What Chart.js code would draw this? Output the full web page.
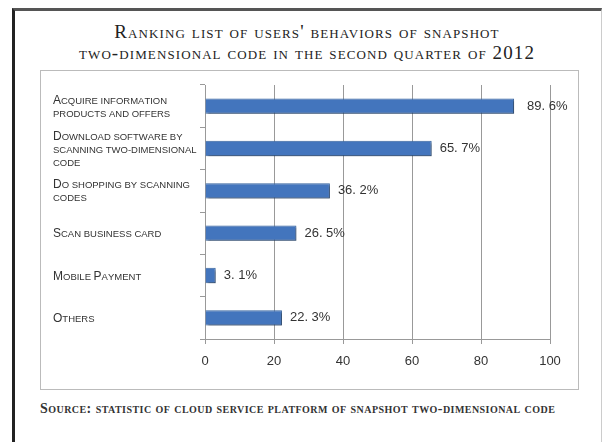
<!DOCTYPE html>
<html>
<head>
<meta charset="utf-8">
<script src="https://cdn.jsdelivr.net/npm/chart.js@4"></script>
<style>
  body { margin: 0; width: 606px; height: 442px; background: #fff; position: relative; overflow: hidden; }
  #frame { position: absolute; left: 12px; top: 8px; width: 586px; height: 440px;
           border-left: 3px solid #222; border-top: 3px solid #555; border-right: 1px solid #ccc; }
  #title { position: absolute; left: 12px; width: 590px; top: 21px; text-align: center;
           font: small-caps 19px "Liberation Serif", serif; letter-spacing: 1.1px; color: #222; line-height: 21px; }
  #box { position: absolute; left: 40px; top: 70px; width: 537px; height: 318px; border: 1px solid #bbb; }
  #source { position: absolute; left: 40px; top: 401px; font: small-caps bold 14px "Liberation Serif", serif;
            letter-spacing: 0.45px; color: #333; }
</style>
</head>
<body>
<div id="frame"></div>
<div id="title">Ranking list of users' behaviors of snapshot<br>two-dimensional code in the second quarter of 2012</div>
<div id="box"><canvas id="chart" width="537" height="318"></canvas></div>
<div id="source">Source: statistic of cloud service platform of snapshot two-dimensional code</div>
<script>
let behaviors = [
    ["Acquire information", "products and offers"],
    ["Download software by", "scanning two-dimensional", "code"],
    ["Do shopping by scanning", "codes"],
    ["Scan business card"],
    ["Mobile Payment"],
    ["Others"]
]
let shares = [89.6, 65.7, 36.2, 26.5, 3.1, 22.3]
let xTicks = [0, 20, 40, 60, 80, 100]

// soft shadow under the bars, like the original
let barShadow = {
    id: 'barShadow',
    beforeDatasetsDraw(chart) {
        let ctx = chart.ctx
        ctx.save()
        ctx.shadowColor = 'rgba(0,0,0,0.35)'
        ctx.shadowOffsetX = 2
        ctx.shadowOffsetY = 2
        ctx.shadowBlur = 2
    },
    afterDatasetsDraw(chart) {
        chart.ctx.restore()
    }
}

// "89. 6%" style labels right of each bar
let valueLabels = {
    id: 'valueLabels',
    afterDatasetsDraw(chart) {
        let ctx = chart.ctx
        ctx.save()
        ctx.font = '13px "Liberation Sans", sans-serif'
        ctx.fillStyle = '#333'
        ctx.textAlign = 'left'
        ctx.textBaseline = 'middle'
        chart.getDatasetMeta(0).data.forEach((bar, i) => {
            let txt = shares[i].toFixed(1).replace('.', '. ') + '%'
            ctx.fillText(txt, bar.x + (i === 0 ? 13 : 8), bar.y)
        })
        ctx.restore()
    }
}

// canvas ignores small-caps, so draw the category labels by hand
let smallCapsLabels = {
    id: 'smallCapsLabels',
    afterDraw(chart) {
        let ctx = chart.ctx
        let yScale = chart.scales.y
        let big = '12px "Liberation Sans", sans-serif'
        let small = '9.5px "Liberation Sans", sans-serif'
        let lineGap = 13
        ctx.save()
        ctx.fillStyle = '#333'
        ctx.textAlign = 'left'
        ctx.textBaseline = 'alphabetic'
        behaviors.forEach((lines, i) => {
            let yc = yScale.getPixelForTick(i)
            let y0 = yc - (lines.length - 1) * lineGap / 2 + 4
            lines.forEach((line, j) => {
                let x = yScale.left + 3
                for (let ch of line) {
                    let isCap = ch !== ch.toLowerCase()
                    ctx.font = isCap ? big : small
                    let c = ch.toUpperCase()
                    ctx.fillText(c, x, y0 + j * lineGap)
                    x += ctx.measureText(c).width
                }
            })
        })
        ctx.restore()
    }
}

new Chart(document.getElementById('chart'), {
    type: 'bar',
    data: {
        labels: behaviors,
        datasets: [{
            data: shares,
            backgroundColor: '#4375bd',
            borderColor: '#36649f',
            borderWidth: 1,
            barPercentage: 0.52,
            categoryPercentage: 0.7
        }]
    },
    options: {
        indexAxis: 'y',
        responsive: false,
        animation: false,
        layout: { padding: { left: 9, right: 28, top: 14, bottom: 0 } },
        plugins: {
            legend: { display: false },
            tooltip: { enabled: false }
        },
        scales: {
            x: {
                min: 0,
                max: 100,
                afterBuildTicks: scale => { scale.ticks = xTicks.map(v => ({ value: v })) },
                afterFit: scale => { scale.height = 50 },
                grid: { color: '#999', tickLength: 5, tickColor: '#999' },
                border: { color: '#999' },
                ticks: {
                    padding: 10,
                    color: '#333',
                    font: { family: '"Liberation Sans", sans-serif', size: 13 }
                }
            },
            y: {
                afterFit: scale => { scale.width = 155 },
                grid: { drawOnChartArea: false, tickLength: 5, color: '#999' },
                border: { color: '#999' },
                ticks: { display: false }
            }
        }
    },
    plugins: [barShadow, valueLabels, smallCapsLabels]
})
</script>
</body>
</html>
